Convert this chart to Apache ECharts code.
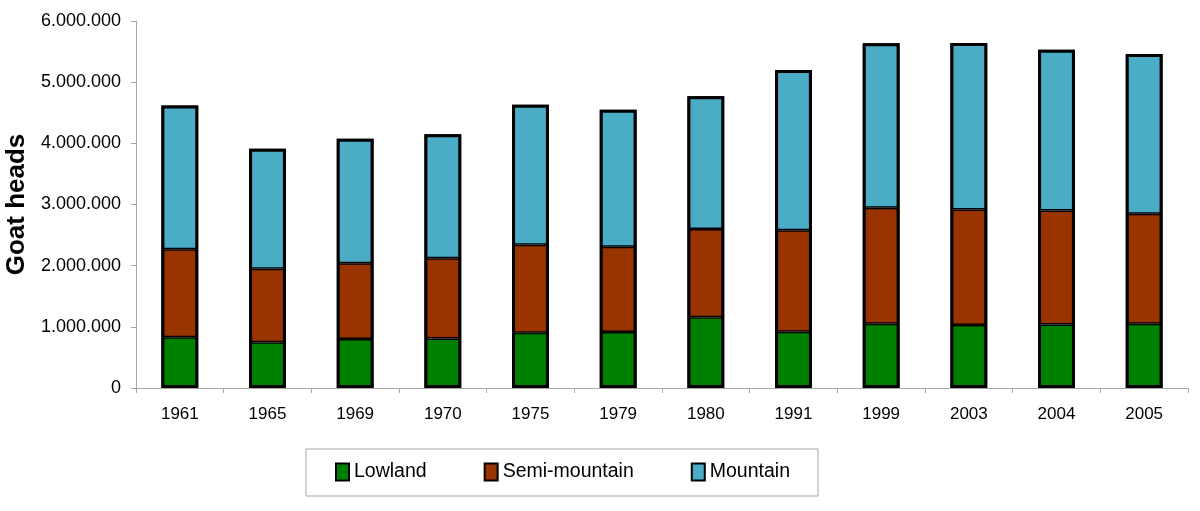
<!DOCTYPE html>
<html>
<head>
<meta charset="utf-8">
<script src="https://cdn.jsdelivr.net/npm/echarts@6/dist/echarts.min.js"></script>
<style>
  html, body { margin: 0; padding: 0; background: #fff; }
  #chart { width: 1200px; height: 511px; }
</style>
</head>
<body>
<div id="chart"></div>
<script>
const years    = ['1961', '1965', '1969', '1970', '1975', '1979', '1980', '1991', '1999', '2003', '2004', '2005']
const lowland  = [830000, 750000, 800000, 810000, 905000, 917000, 1157000, 920000, 1050000, 1030000, 1040000, 1050000]
const semi     = [1440000, 1200000, 1240000, 1310000, 1435000, 1393000, 1443000, 1660000, 1896000, 1890000, 1860000, 1800000]
const mountain = [2350000, 1960000, 2035000, 2030000, 2290000, 2240000, 2170000, 2620000, 2689000, 2720000, 2630000, 2610000]

// outline drawn over each stack so the outer edge is as thick as the inner joins
const totals = years.map((_, i) => lowland[i] + semi[i] + mountain[i])

const fmt = v => String(v).replace(/\B(?=(\d{3})+(?!\d))/g, '.')
const FONT = 'Liberation Sans, Arial, sans-serif'

const chart = echarts.init(document.getElementById('chart'))

const bar = (name, data, color) => ({
  name,
  type: 'bar',
  stack: 'total',
  data,
  barWidth: '42%',
  barGap: '-100%',
  itemStyle: { color, borderColor: '#000', borderWidth: 1.5 },
})

chart.setOption({
  backgroundColor: '#fff',
  animation: false,
  textStyle: { fontFamily: FONT },
  grid: { left: 136, right: 12, top: 21, bottom: 123, outerBoundsMode: 'none' },
  xAxis: {
    type: 'category',
    data: years,
    axisLine:  { lineStyle: { color: '#a6a6a6', width: 1 } },
    axisTick:  { show: true, length: 5, lineStyle: { color: '#a6a6a6' } },
    axisLabel: { color: '#000', fontSize: 17, margin: 18, fontFamily: FONT },
  },
  yAxis: {
    type: 'value',
    min: 0,
    max: 6000000,
    interval: 1000000,
    name: 'Goat heads',
    nameLocation: 'middle',
    nameRotate: 90,
    nameGap: 106,
    nameTextStyle: { color: '#000', fontSize: 26, fontWeight: 'bold', fontFamily: FONT },
    axisLine:  { show: true, lineStyle: { color: '#a6a6a6', width: 1 } },
    axisTick:  { show: true, length: 5, lineStyle: { color: '#a6a6a6' } },
    splitLine: { show: false },
    axisLabel: { color: '#000', fontSize: 18, margin: 15, fontFamily: FONT, formatter: fmt },
  },
  legend: {
    left: 306,
    top: 449,
    padding: [13, 28, 14, 29],
    borderColor: '#a6a6a6',
    borderWidth: 1,
    itemGap: 57,
    itemWidth: 13,
    itemHeight: 17,
    icon: 'rect',
    itemStyle: { borderColor: '#000', borderWidth: 2 },
    textStyle: { color: '#000', fontSize: 19.5, fontFamily: FONT },
    data: ['Lowland', 'Semi-mountain', 'Mountain'],
  },
  series: [
    bar('Lowland', lowland, '#008000'),
    bar('Semi-mountain', semi, '#993300'),
    bar('Mountain', mountain, '#4bacc6'),
    {
      name: 'outline',
      type: 'bar',
      data: totals,
      barWidth: '42%',
      barGap: '-100%',
      silent: true,
      itemStyle: { color: 'rgba(0,0,0,0)', borderColor: '#000', borderWidth: 3 },
    },
  ],
})
</script>
</body>
</html>
